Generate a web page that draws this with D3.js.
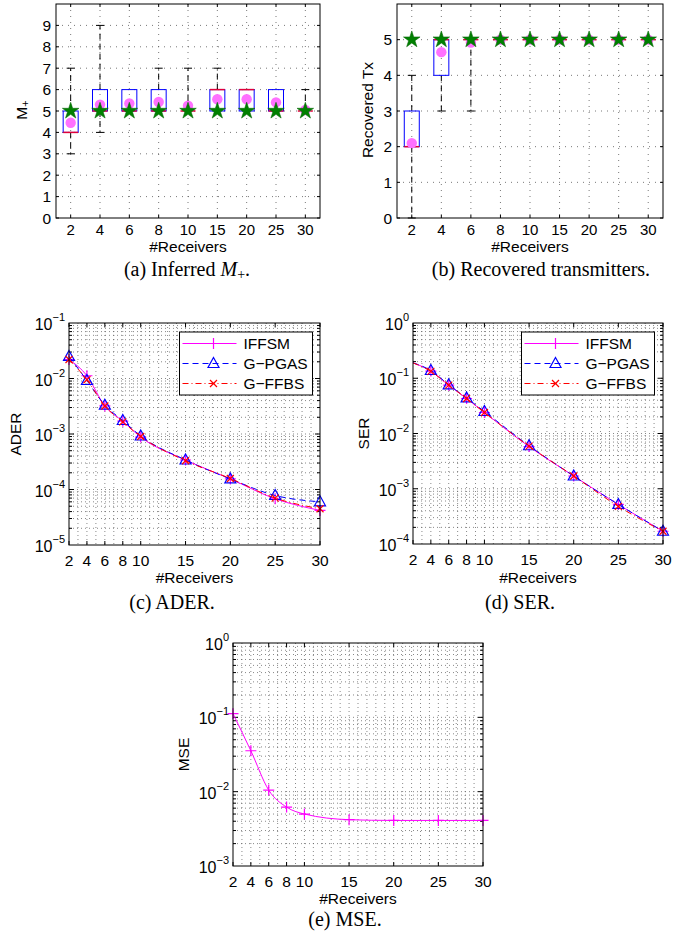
<!DOCTYPE html>
<html>
<head>
<meta charset="utf-8">
<script src="https://cdn.jsdelivr.net/npm/d3@7"></script>
<style>
  body { margin: 0; background: #fff; }
  text { font-family: "Liberation Sans", Arial, sans-serif; fill: #000; }
  .cap { font-family: "Liberation Serif", "Times New Roman", serif; font-size: 20px; }
</style>
</head>
<body>
<svg id="fig" width="691" height="940"></svg>
<script>
// x categories shared by every panel
const receivers = [2, 4, 6, 8, 10, 15, 20, 25, 30];

// (a) inferred M+, box statistics per receiver count
const mQ1     = [4, 5, 5, 5, 5, 5, 5, 5, 5];
const mQ3     = [5, 6, 6, 6, 5, 6, 6, 6, 5];
const mMedian = [4, 5, 5, 5, 5, 6, 6, 5, 5];
const mLow    = [3, 4, 5, 5, 5, 5, 5, 5, 5];
const mHigh   = [7, 9, 6, 7, 7, 7, 6, 6, 6];
const mMean   = [4.45, 5.3, 5.35, 5.42, 5.25, 5.55, 5.55, 5.4, 5.05];
const mTrue   = [5, 5, 5, 5, 5, 5, 5, 5, 5];

// (b) recovered transmitters
const txQ1     = [2, 4, 5, 5, 5, 5, 5, 5, 5];
const txQ3     = [3, 5, 5, 5, 5, 5, 5, 5, 5];
const txMedian = [2, 5, 5, 5, 5, 5, 5, 5, 5];
const txLow    = [0, 3, 3, 5, 5, 5, 5, 5, 5];
const txHigh   = [4, 5, 5, 5, 5, 5, 5, 5, 5];
const txMean   = [2.1, 4.65, 4.92, 5, 5, 5, 5, 5, 5];
const txTrue   = [5, 5, 5, 5, 5, 5, 5, 5, 5];

// (c) ADER
const aderIffsm = [0.022, 0.0112, 0.0032, 0.0017, 0.00088, 0.00034, 0.000155, 0.000068, 0.000042];
const aderPgas  = [0.025, 0.0092, 0.0033, 0.00175, 0.00092, 0.00034, 0.000155, 0.000078, 0.00006];
const aderFfbs  = [0.022, 0.0095, 0.0032, 0.00165, 0.0009, 0.00033, 0.000158, 0.00007, 0.000045];

// (d) SER
const serIffsm = [0.19, 0.135, 0.075, 0.043, 0.024, 0.0058, 0.0017, 0.00052, 0.00017];
const serPgas  = [0.19, 0.138, 0.076, 0.044, 0.025, 0.006, 0.0017, 0.00052, 0.00017];
const serFfbs  = [0.19, 0.133, 0.075, 0.043, 0.024, 0.0059, 0.0017, 0.00048, 0.00017];

// (e) MSE
const mseIffsm = [0.112, 0.0355, 0.0105, 0.0062, 0.005, 0.0042, 0.0041, 0.0041, 0.0041];

const legendNames = ["IFFSM", "G\u2212PGAS", "G\u2212FFBS"];

const svg = d3.select("#fig");
const FS = 15.5;

// marker paths
const plusPath = "M-5.5,0H5.5M0,-5.5V5.5";
const triPath = "M0,-6L5.5,4L-5.5,4Z";
const crossPath = "M-3.5,-3.5L3.5,3.5M-3.5,3.5L3.5,-3.5";

const styles = [
  { color: "#ff00ff", dash: null, marker: plusPath },
  { color: "#0000ff", dash: "6,4", marker: triPath },
  { color: "#ff0000", dash: "6,3,1,3", marker: crossPath }
];

function frame(g, p) {
  g.append("rect")
    .attr("x", p.l).attr("y", p.t)
    .attr("width", p.r - p.l).attr("height", p.b - p.t)
    .attr("fill", "none").attr("stroke", "#000").attr("stroke-width", 1);
}

function gridLine(g, x1, y1, x2, y2, dash, w) {
  g.append("line")
    .attr("x1", x1).attr("y1", y1).attr("x2", x2).attr("y2", y2)
    .attr("stroke", "#555").attr("stroke-width", w || 0.8)
    .attr("stroke-dasharray", dash);
}

function tick(g, x1, y1, x2, y2) {
  g.append("line")
    .attr("x1", x1).attr("y1", y1).attr("x2", x2).attr("y2", y2)
    .attr("stroke", "#000").attr("stroke-width", 1);
}

function xLabel(g, cx, cy) {
  g.append("text")
    .attr("x", cx).attr("y", cy)
    .attr("text-anchor", "middle").attr("dominant-baseline", "central")
    .attr("font-size", FS).text("#Receivers");
}

function yLabel(g, cx, cy, txt, sub) {
  const t = g.append("text")
    .attr("transform", `translate(${cx},${cy}) rotate(-90)`)
    .attr("text-anchor", "middle").attr("dominant-baseline", "central")
    .attr("font-size", FS).text(txt);
  if (sub) {
    t.append("tspan").attr("font-size", 11).attr("dy", 4).text(sub);
  }
}

// ---------- box plot panels ----------
function boxPanel(p, st, yMax, yTickMax, labelFn) {
  const g = svg.append("g");
  const x = d3.scaleLinear().domain([0.5, 9.5]).range([p.l, p.r]);
  const y = d3.scaleLinear().domain([0, yMax]).range([p.b, p.t]);
  const cats = d3.range(1, 10);
  const yTicks = d3.range(0, yTickMax + 1);

  cats.forEach(c => gridLine(g, x(c), p.t, x(c), p.b, "1,5"));
  yTicks.filter(v => v > 0).forEach(v => gridLine(g, p.l, y(v), p.r, y(v), "1,5"));

  cats.forEach((c, i) => {
    tick(g, x(c), p.b, x(c), p.b - 3);
    tick(g, x(c), p.t, x(c), p.t + 3);
    g.append("text").attr("x", x(c)).attr("y", p.b + 11.5)
      .attr("text-anchor", "middle").attr("dominant-baseline", "central")
      .attr("font-size", 15).text(receivers[i]);
  });
  yTicks.forEach(v => {
    tick(g, p.l, y(v), p.l + 3, y(v));
    tick(g, p.r, y(v), p.r - 3, y(v));
    g.append("text").attr("x", p.l - 5).attr("y", y(v))
      .attr("text-anchor", "end").attr("dominant-baseline", "central")
      .attr("font-size", FS).text(v);
  });

  const hw = 7.5, cw = 4;
  cats.forEach((c, i) => {
    const cx = x(c);
    // whiskers
    if (st.hi[i] > st.q3[i]) {
      g.append("line").attr("x1", cx).attr("x2", cx)
        .attr("y1", y(st.q3[i])).attr("y2", y(st.hi[i]))
        .attr("stroke", "#000").attr("stroke-dasharray", "6,4");
      tick(g, cx - cw, y(st.hi[i]), cx + cw, y(st.hi[i]));
    }
    if (st.lo[i] < st.q1[i]) {
      g.append("line").attr("x1", cx).attr("x2", cx)
        .attr("y1", y(st.q1[i])).attr("y2", y(st.lo[i]))
        .attr("stroke", "#000").attr("stroke-dasharray", "6,4");
      tick(g, cx - cw, y(st.lo[i]), cx + cw, y(st.lo[i]));
    }
    // box
    if (st.q3[i] > st.q1[i]) {
      g.append("rect").attr("x", cx - hw).attr("width", 2 * hw)
        .attr("y", y(st.q3[i])).attr("height", y(st.q1[i]) - y(st.q3[i]))
        .attr("fill", "none").attr("stroke", "#0000ff").attr("stroke-width", 1);
    }
    // median
    g.append("line").attr("x1", cx - hw).attr("x2", cx + hw)
      .attr("y1", y(st.med[i])).attr("y2", y(st.med[i]))
      .attr("stroke", "#e0003a").attr("stroke-width", 1.5);
  });

  // mean and true value
  g.selectAll(".mean").data(st.mean).enter().append("circle")
    .attr("cx", (d, i) => x(i + 1)).attr("cy", d => y(d))
    .attr("r", 5.2).attr("fill", "#ff70ff");
  g.selectAll(".star").data(st.truth).enter().append("path")
    .attr("d", d3.symbol(d3.symbolStar).size(85))
    .attr("transform", (d, i) => `translate(${x(i + 1)},${y(d)})`)
    .attr("fill", "#008000").attr("stroke", "#0a6a0a").attr("stroke-width", 0.6);

  frame(g, p);
  xLabel(g, (p.l + p.r) / 2, p.b + 28.5);
  labelFn(g);
}

// ---------- log panels ----------
function logPanel(p, yDomain, series, showLegend, labelTxt, labelX, xLabY) {
  const g = svg.append("g");
  const x = d3.scaleLinear().domain([2, 30]).range([p.l, p.r]);
  const y = d3.scaleLog().domain(yDomain).range([p.b, p.t]);
  const lo = Math.round(Math.log10(yDomain[0])), hi = Math.round(Math.log10(yDomain[1]));

  // vertical grid at every integer
  d3.range(3, 30).forEach(v => gridLine(g, x(v), p.t, x(v), p.b, "1,3", 0.7));
  // horizontal grid at 1..9 x 10^k
  for (let k = lo; k < hi; k++) {
    for (let m = 1; m <= 9; m++) {
      const v = m * Math.pow(10, k);
      if (k === lo && m === 1) continue;
      gridLine(g, p.l, y(v), p.r, y(v), "1,3", 0.7);
      const len = m === 1 ? 5 : 3;
      tick(g, p.l, y(v), p.l + len, y(v));
      tick(g, p.r, y(v), p.r - len, y(v));
    }
  }
  receivers.forEach(r => {
    tick(g, x(r), p.b, x(r), p.b - 4);
    tick(g, x(r), p.t, x(r), p.t + 4);
    g.append("text").attr("x", x(r)).attr("y", p.b + 15.5)
      .attr("text-anchor", "middle").attr("dominant-baseline", "central")
      .attr("font-size", FS).text(r);
  });
  for (let k = lo; k <= hi; k++) {
    const t = g.append("text").attr("x", p.l - 4).attr("y", y(Math.pow(10, k)) + 7)
      .attr("text-anchor", "end").attr("font-size", 16);
    t.append("tspan").text("10");
    t.append("tspan").attr("dy", -9).attr("font-size", 11).text(k < 0 ? "\u2212" + (-k) : k);
  }

  const line = d3.line().x((d, i) => x(receivers[i])).y(d => y(d)).curve(d3.curveMonotoneX);
  series.forEach((s, si) => {
    const st = styles[si];
    g.append("path").attr("d", line(s.values))
      .attr("fill", "none").attr("stroke", st.color).attr("stroke-width", 1)
      .attr("stroke-dasharray", st.dash);
    s.values.forEach((v, i) => {
      if (i < (s.markerFrom || 0)) return;
      g.append("path").attr("d", st.marker)
        .attr("transform", `translate(${x(receivers[i])},${y(v)})`)
        .attr("fill", "none").attr("stroke", st.color).attr("stroke-width", 1.2);
    });
  });

  frame(g, p);

  if (showLegend) {
    const lx = showLegend.x, ly = showLegend.y;
    g.append("rect").attr("x", lx).attr("y", ly).attr("width", 133).attr("height", 63)
      .attr("fill", "#fff").attr("stroke", "#000").attr("stroke-width", 1);
    legendNames.forEach((name, i) => {
      const st = styles[i];
      const cy = ly + 11.5 + i * 20;
      g.append("line").attr("x1", lx + 3).attr("x2", lx + 57).attr("y1", cy).attr("y2", cy)
        .attr("stroke", st.color).attr("stroke-width", 1.2).attr("stroke-dasharray", st.dash);
      g.append("path").attr("d", st.marker).attr("transform", `translate(${lx + 34},${cy})`)
        .attr("fill", "none").attr("stroke", st.color).attr("stroke-width", 1.2);
      g.append("text").attr("x", lx + 64).attr("y", cy).attr("dominant-baseline", "central")
        .attr("font-size", FS).text(name);
    });
  }

  xLabel(g, (p.l + p.r) / 2, xLabY);
  yLabel(g, labelX, (p.t + p.b) / 2, labelTxt);
}

function caption(cx, by, parts) {
  const t = svg.append("text").attr("class", "cap").attr("x", cx).attr("y", by)
    .attr("text-anchor", "middle");
  parts.forEach(pt => {
    const s = t.append("tspan").text(pt.t);
    if (pt.italic) s.attr("font-style", "italic");
    if (pt.sub) s.attr("font-size", 14).attr("dy", 3);
    if (pt.up) s.attr("dy", -3);
  });
}

// ---------- draw ----------
boxPanel({ l: 56, r: 320, t: 4, b: 218 },
  { q1: mQ1, q3: mQ3, med: mMedian, lo: mLow, hi: mHigh, mean: mMean, truth: mTrue },
  10, 9, g => yLabel(g, 21, 110, "M", "+"));

boxPanel({ l: 397, r: 663, t: 4, b: 218 },
  { q1: txQ1, q3: txQ3, med: txMedian, lo: txLow, hi: txHigh, mean: txMean, truth: txTrue },
  6, 5, g => yLabel(g, 367, 110, "Recovered Tx"));

logPanel({ l: 69, r: 320, t: 323, b: 545 }, [1e-5, 1e-1],
  [{ values: aderIffsm }, { values: aderPgas }, { values: aderFfbs }],
  { x: 179.5, y: 332 }, "ADER", 15, 577);

logPanel({ l: 413, r: 663, t: 323, b: 544 }, [1e-4, 1],
  [{ values: serIffsm, markerFrom: 1 }, { values: serPgas, markerFrom: 1 }, { values: serFfbs, markerFrom: 1 }],
  { x: 521.5, y: 332 }, "SER", 363, 577);

logPanel({ l: 233, r: 483, t: 643, b: 866 }, [1e-3, 1],
  [{ values: mseIffsm }],
  null, "MSE", 183, 898);

caption(187, 276, [{ t: "(a) Inferred " }, { t: "M", italic: true }, { t: "+", sub: true }, { t: ".", up: true }]);
caption(541, 276, [{ t: "(b) Recovered transmitters." }]);
caption(172, 609, [{ t: "(c) ADER." }]);
caption(520, 609, [{ t: "(d) SER." }]);
caption(345, 926, [{ t: "(e) MSE." }]);
</script>
</body>
</html>
